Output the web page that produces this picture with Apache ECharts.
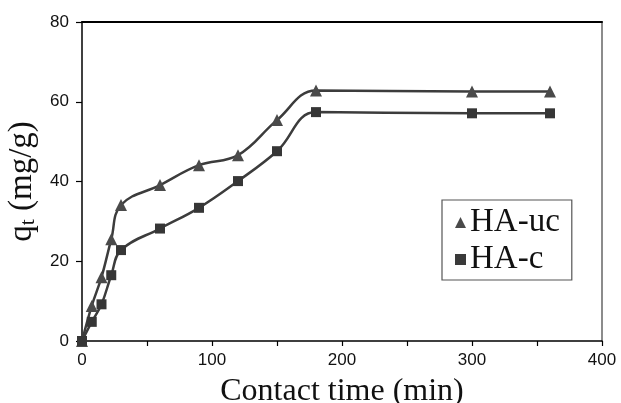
<!DOCTYPE html>
<html>
<head>
<meta charset="utf-8">
<script src="https://cdn.jsdelivr.net/npm/echarts@6/dist/echarts.min.js"></script>
<style>
html,body{margin:0;padding:0;background:#fff;}
#chart{width:621px;height:403px;}
</style>
</head>
<body>
<div id="chart"></div>
<script>
// Data
var time = [0, 7.5, 15, 22.5, 30, 60, 90, 120, 150, 180, 300, 360];
var haUC = [0, 8.8, 16.0, 25.5, 34.1, 39.1, 44.1, 46.6, 55.4, 62.8, 62.6, 62.6];
var haC  = [0, 4.8, 9.2, 16.5, 22.8, 28.2, 33.4, 40.1, 47.6, 57.4, 57.1, 57.1];
var xTicks = [0, 100, 200, 300, 400];
var yTicks = [0, 20, 40, 60, 80];

function pairs(xs, ys) { return xs.map(function (x, i) { return [x, ys[i]]; }); }

var chart = echarts.init(document.getElementById('chart'), null, {renderer: 'canvas'});
var serif = '"Liberation Serif", "Times New Roman", serif';
var sans = '"Liberation Sans", Arial, sans-serif';

chart.setOption({
  animation: false,
  backgroundColor: '#ffffff',
  grid: {left: 82, right: 19, top: 22, bottom: 62, containLabel: false, outerBoundsMode: 'none'},
  legend: {
    orient: 'vertical',
    left: 442, top: 200,
    padding: [6, 12, 4, 13],
    itemGap: 4,
    itemWidth: 11, itemHeight: 11,
    backgroundColor: '#ffffff',
    borderColor: '#555555', borderWidth: 1.2, borderRadius: 0,
    textStyle: {fontFamily: serif, fontSize: 33, color: '#111', lineHeight: 30, padding: [0, 0, 0, -1]},
    data: [
      {name: 'HA-uc', icon: 'triangle', itemStyle: {color: '#4a4a4a'}},
      {name: 'HA-c', icon: 'rect', itemStyle: {color: '#3a3a3a'}}
    ]
  },
  xAxis: [{
    type: 'value', min: 0, max: 400, interval: 50,
    position: 'bottom',
    axisLine: {show: true, onZero: false, lineStyle: {color: '#000', width: 1.5}},
    axisTick: {show: true, inside: false, length: 5, lineStyle: {color: '#000', width: 1.2}},
    splitLine: {show: false},
    axisLabel: {
      margin: 11, color: '#111', fontFamily: sans, fontSize: 17,
      formatter: function (v) { return xTicks.indexOf(v) >= 0 ? String(v) : ''; }
    },
    name: 'Contact time (min)',
    nameLocation: 'middle', nameGap: 35,
    nameTextStyle: {fontFamily: serif, fontSize: 32, color: '#111'}
  }, {
    type: 'value', min: 0, max: 400, interval: 50, position: 'top',
    axisLine: {show: true, onZero: false, lineStyle: {color: '#000', width: 2}},
    axisTick: {show: false}, axisLabel: {show: false}, splitLine: {show: false}
  }],
  yAxis: [{
    type: 'value', min: 0, max: 80, interval: 20,
    position: 'left',
    axisLine: {show: true, onZero: false, lineStyle: {color: '#000', width: 1.5}},
    axisTick: {show: true, inside: false, length: 6, lineStyle: {color: '#000', width: 1.2}},
    splitLine: {show: false},
    axisLabel: {
      margin: 13, color: '#111', fontFamily: sans, fontSize: 17,
      formatter: function (v) { return yTicks.indexOf(v) >= 0 ? String(v) : ''; }
    },
    name: '{q|q}{t|t}{q| (mg/g)}',
    nameLocation: 'middle', nameGap: 40, nameRotate: 90,
    nameTextStyle: {
      color: '#111',
      rich: {
        q: {fontFamily: serif, fontSize: 33, color: '#111', lineHeight: 34},
        t: {fontFamily: serif, fontSize: 22, color: '#111', lineHeight: 10, verticalAlign: 'bottom'}
      }
    }
  }, {
    type: 'value', min: 0, max: 80, interval: 20, position: 'right',
    axisLine: {show: true, onZero: false, lineStyle: {color: '#666', width: 1.5}},
    axisTick: {show: false}, axisLabel: {show: false}, splitLine: {show: false}
  }],
  series: [{
    name: 'HA-uc', type: 'line', smooth: 0.4,
    data: pairs(time, haUC),
    symbol: 'triangle', symbolSize: 12,
    lineStyle: {color: '#3c3c3c', width: 2.5},
    itemStyle: {color: '#4a4a4a'},
    z: 3
  }, {
    name: 'HA-c', type: 'line', smooth: 0.4,
    data: pairs(time, haC),
    symbol: 'rect', symbolSize: 10,
    lineStyle: {color: '#3c3c3c', width: 2.5},
    itemStyle: {color: '#363636'},
    z: 3
  }]
});
</script>
</body>
</html>
